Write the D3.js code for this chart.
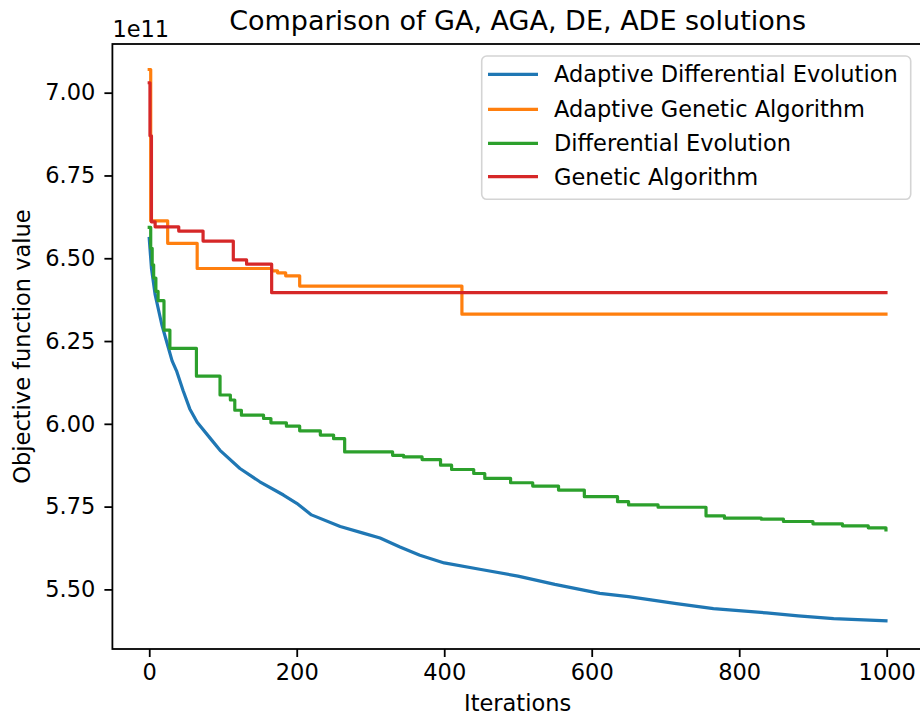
<!DOCTYPE html>
<html>
<head>
<meta charset="utf-8">
<script src="https://cdn.jsdelivr.net/npm/d3@7"></script>
<style>
  html, body { margin: 0; padding: 0; background: #fff; }
  svg { display: block; font-family: "DejaVu Sans", sans-serif; }
</style>
</head>
<body>
<svg id="chart" width="920" height="715"></svg>
<script>
// ---------------- data (values in units of 1e11) ----------------
const titleText = "Comparison of GA, AGA, DE, ADE solutions";
const xLabel = "Iterations";
const yLabel = "Objective function value";
const offsetLabel = "1e11";
const xTicks = [0, 200, 400, 600, 800, 1000];
const yTicks = [5.50, 5.75, 6.00, 6.25, 6.50, 6.75, 7.00];
const seriesNames = ["Adaptive Differential Evolution", "Adaptive Genetic Algorithm", "Differential Evolution", "Genetic Algorithm"];
const seriesColors = ["#1f77b4", "#ff7f0e", "#2ca02c", "#d62728"];

// Adaptive Differential Evolution (blue)
const adeIters  = [0, 3, 8, 17, 24, 31, 37, 46, 55, 65, 85, 96, 123, 150, 182, 200, 220, 259, 290, 313, 340, 367, 400, 450, 500, 550, 611, 650, 715, 765, 837, 880, 928, 999];
const adeValues = [6.56, 6.47, 6.39, 6.30, 6.245, 6.19, 6.16, 6.10, 6.045, 6.005, 5.95, 5.92, 5.865, 5.825, 5.785, 5.76, 5.725, 5.69, 5.67, 5.655, 5.628, 5.603, 5.58, 5.56, 5.54, 5.515, 5.488, 5.478, 5.457, 5.442, 5.429, 5.42, 5.412, 5.405];

// Adaptive Genetic Algorithm (orange) - change points
const agaIters  = [0, 2, 25, 65, 166, 174, 185, 204, 424, 999];
const agaValues = [7.07, 6.613, 6.545, 6.469, 6.462, 6.456, 6.447, 6.416, 6.331, 6.331];

// Differential Evolution (green) - change points
const deIters  = [0, 2, 4, 6, 9, 12, 20, 28, 64, 96, 110, 116, 125, 155, 165, 186, 204, 232, 250, 265, 330, 345, 370, 395, 410, 440, 455, 490, 520, 555, 590, 635, 650, 690, 755, 780, 830, 860, 900, 940, 975, 999];
const deValues = [6.593, 6.53, 6.48, 6.44, 6.40, 6.372, 6.283, 6.228, 6.144, 6.087, 6.072, 6.041, 6.026, 6.016, 6.003, 5.993, 5.979, 5.966, 5.955, 5.915, 5.905, 5.90, 5.892, 5.875, 5.862, 5.85, 5.835, 5.822, 5.812, 5.80, 5.78, 5.765, 5.755, 5.748, 5.722, 5.715, 5.712, 5.705, 5.698, 5.692, 5.686, 5.68];

// Genetic Algorithm (red) - change points
const gaIters  = [0, 1, 3, 8, 40, 73, 114, 132, 166, 999];
const gaValues = [7.03, 6.87, 6.61, 6.595, 6.582, 6.552, 6.495, 6.482, 6.396, 6.396];

// ---------------- chart ----------------
const svg = d3.select("#chart");
const FS = 22.5;          // base font size (px)
const plot = { left: 112.4, right: 922.8, top: 44, bottom: 649 };

const x = d3.scaleLinear().domain([-49.95, 1048.95]).range([plot.left, plot.right]);
const y = d3.scaleLinear().domain([5.32, 7.147]).range([plot.bottom, plot.top]);

svg.append("defs").append("clipPath").attr("id", "clip")
  .append("rect").attr("x", plot.left).attr("y", plot.top)
  .attr("width", plot.right - plot.left).attr("height", plot.bottom - plot.top);

const series = [
  { name: seriesNames[0], color: seriesColors[0], it: adeIters, v: adeValues, curve: d3.curveLinear },
  { name: seriesNames[1], color: seriesColors[1], it: agaIters, v: agaValues, curve: d3.curveStepAfter },
  { name: seriesNames[2], color: seriesColors[2], it: deIters,  v: deValues,  curve: d3.curveStepAfter },
  { name: seriesNames[3], color: seriesColors[3], it: gaIters,  v: gaValues,  curve: d3.curveStepAfter }
];

const gLines = svg.append("g").attr("clip-path", "url(#clip)");
series.forEach(s => {
  const pts = s.it.map((d, i) => [d, s.v[i]]);
  const line = d3.line().x(d => x(d[0])).y(d => y(d[1])).curve(s.curve);
  gLines.append("path").attr("d", line(pts))
    .attr("fill", "none").attr("stroke", s.color)
    .attr("stroke-width", 3.2).attr("stroke-linejoin", "round").attr("stroke-linecap", "square");
});

// axes
const xAxis = d3.axisBottom(x).tickValues(xTicks).tickFormat(d3.format("d")).tickSize(8).tickPadding(7);
const yAxis = d3.axisLeft(y).tickValues(yTicks).tickFormat(d3.format(".2f")).tickSize(8).tickPadding(9);

const gx = svg.append("g").attr("transform", `translate(0,${plot.bottom})`).call(xAxis);
const gy = svg.append("g").attr("transform", `translate(${plot.left},0)`).call(yAxis);
[gx, gy].forEach(g => {
  g.select(".domain").remove();
  g.selectAll(".tick line").attr("stroke", "#000").attr("stroke-width", 1.8);
  g.selectAll(".tick text").attr("fill", "#000").style("font-size", FS + "px").style("font-family", "DejaVu Sans");
});

// spines
svg.append("rect").attr("x", plot.left).attr("y", plot.top)
  .attr("width", plot.right - plot.left).attr("height", plot.bottom - plot.top)
  .attr("fill", "none").attr("stroke", "#000").attr("stroke-width", 1.8);

// title
svg.append("text").attr("x", (plot.left + plot.right) / 2).attr("y", 30)
  .attr("text-anchor", "middle").style("font-size", "27px").attr("fill", "#000").text(titleText);

// offset text
svg.append("text").attr("x", plot.left).attr("y", 37)
  .attr("text-anchor", "start").style("font-size", FS + "px").attr("fill", "#000").text(offsetLabel);

// x label
svg.append("text").attr("x", (plot.left + plot.right) / 2).attr("y", 711)
  .attr("text-anchor", "middle").style("font-size", FS + "px").attr("fill", "#000").text(xLabel);

// y label
svg.append("text").attr("transform", `translate(30,${(plot.top + plot.bottom) / 2}) rotate(-90)`)
  .attr("text-anchor", "middle").style("font-size", FS + "px").attr("fill", "#000").text(yLabel);

// legend
const leg = { x0: 481.7, x1: 910.7, y0: 56, y1: 199.3 };
const legRows = [74.3, 109.3, 143.3, 176.7];
svg.append("rect").attr("x", leg.x0).attr("y", leg.y0)
  .attr("width", leg.x1 - leg.x0).attr("height", leg.y1 - leg.y0)
  .attr("rx", 5).attr("ry", 5)
  .attr("fill", "rgba(255,255,255,0.8)").attr("stroke", "#d4d4d4").attr("stroke-width", 1.6);
series.forEach((s, i) => {
  svg.append("line").attr("x1", 488).attr("x2", 538).attr("y1", legRows[i]).attr("y2", legRows[i])
    .attr("stroke", s.color).attr("stroke-width", 3.2);
  svg.append("text").attr("x", 554).attr("y", legRows[i] + 8)
    .style("font-size", FS + "px").attr("fill", "#000").text(s.name);
});
</script>
</body>
</html>
